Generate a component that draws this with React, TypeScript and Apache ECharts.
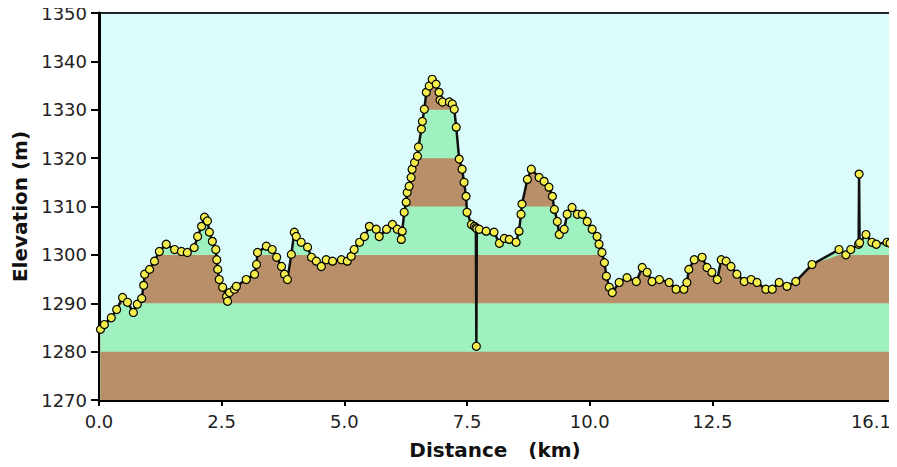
import React, { useEffect, useRef } from "react";
import * as echarts from "echarts";

// Elevation profile
const distanceKm = [
  0.03, 0.11, 0.25, 0.36, 0.48, 0.58, 0.7, 0.78, 0.87, 0.91,
  0.93, 1.03, 1.13, 1.23, 1.37, 1.54, 1.68, 1.8, 1.94, 2.01,
  2.09, 2.15, 2.21, 2.25, 2.31, 2.38, 2.4, 2.42, 2.45, 2.52,
  2.6, 2.62, 2.66, 2.76, 2.8, 3.0, 3.17, 3.21, 3.23, 3.41,
  3.53, 3.62, 3.72, 3.78, 3.84, 3.92, 3.98, 4.02, 4.12, 4.25,
  4.33, 4.43, 4.53, 4.63, 4.76, 4.94, 5.06, 5.14, 5.2, 5.31,
  5.41, 5.51, 5.65, 5.71, 5.86, 5.98, 6.08, 6.16, 6.18, 6.22,
  6.26, 6.28, 6.32, 6.36, 6.38, 6.43, 6.49, 6.51, 6.57, 6.59,
  6.63, 6.67, 6.73, 6.79, 6.87, 6.93, 6.95, 7.0, 7.14, 7.2,
  7.24, 7.28, 7.34, 7.4, 7.44, 7.48, 7.5, 7.59, 7.65, 7.68,
  7.7, 7.75, 7.89, 8.05, 8.16, 8.26, 8.36, 8.5, 8.56, 8.6,
  8.62, 8.73, 8.81, 8.97, 9.07, 9.17, 9.24, 9.28, 9.34, 9.38,
  9.48, 9.54, 9.64, 9.75, 9.85, 9.95, 10.05, 10.15, 10.19, 10.25,
  10.3, 10.34, 10.4, 10.46, 10.6, 10.76, 10.95, 11.07, 11.17, 11.27,
  11.42, 11.62, 11.76, 11.92, 11.98, 12.02, 12.13, 12.29, 12.39, 12.49,
  12.6, 12.68, 12.78, 12.88, 13.0, 13.15, 13.29, 13.41, 13.59, 13.72,
  13.86, 14.02, 14.2, 14.53, 15.08, 15.22, 15.32, 15.48, 15.5, 15.63,
  15.75, 15.84, 16.06, 16.12,
];
const elevationM = [
  1284.6, 1285.6, 1287.0, 1288.7, 1291.2, 1290.2, 1288.1, 1289.8, 1291.0, 1293.7,
  1296.0, 1297.0, 1298.7, 1300.7, 1302.2, 1301.1, 1300.7, 1300.5, 1301.5, 1303.8,
  1305.9, 1307.8, 1307.0, 1304.7, 1302.8, 1301.1, 1299.0, 1297.0, 1294.9, 1293.3,
  1291.4, 1290.4, 1292.2, 1292.9, 1293.5, 1294.9, 1296.0, 1298.0, 1300.5, 1301.8,
  1301.1, 1299.5, 1297.6, 1296.0, 1294.9, 1300.1, 1304.7, 1303.8, 1302.6, 1301.6,
  1299.5, 1298.7, 1297.6, 1299.0, 1298.7, 1299.0, 1298.7, 1299.7, 1301.1, 1302.6,
  1303.8, 1305.9, 1305.3, 1303.8, 1305.3, 1306.3, 1305.3, 1303.2, 1304.9, 1308.8,
  1310.9, 1312.9, 1314.2, 1316.0, 1317.7, 1319.1, 1320.4, 1322.3, 1326.0, 1327.6,
  1330.1, 1333.6, 1334.9, 1336.3, 1335.3, 1333.6, 1332.0, 1331.6, 1331.6, 1331.2,
  1330.1, 1326.4, 1319.8, 1317.7, 1315.0, 1312.1, 1308.8, 1306.3, 1305.9, 1305.6,
  1305.4, 1305.3, 1304.9, 1304.7, 1302.4, 1303.4, 1303.2, 1302.6, 1304.9, 1308.4,
  1310.5, 1315.6, 1317.7, 1316.0, 1315.2, 1314.0, 1312.1, 1309.4, 1306.9, 1304.2,
  1305.3, 1308.4, 1309.8, 1308.4, 1308.4, 1306.9, 1305.3, 1303.8, 1302.2, 1300.5,
  1298.4, 1295.6, 1293.3, 1292.2, 1294.3, 1295.3, 1294.5, 1297.4, 1296.4, 1294.5,
  1294.9, 1294.3, 1292.9, 1292.9, 1294.3, 1297.0, 1299.0, 1299.5, 1297.4, 1296.4,
  1294.9, 1299.0, 1298.7, 1297.6, 1296.0, 1294.5, 1294.9, 1294.3, 1292.9, 1292.9,
  1294.3, 1293.5, 1294.5, 1298.0, 1301.1, 1300.0, 1301.1, 1302.2, 1302.5, 1304.2,
  1302.6, 1302.2, 1302.6, 1302.4,
];

// Isolated outlier readings (drawn by the line, not by the ground fill)
const spikeDistanceKm = [7.69, 15.49];
const spikeElevationM = [1281.1, 1316.7];

// Axis settings
const yMin = 1270;
const yMax = 1350;
const yStep = 10;
const xMin = 0;
const xMax = 16.14;
const xTickValues = [0, 2.5, 5, 7.5, 10, 12.5, 16.14];

// Contour bands (bottom of each 10 m band)
const bandBottoms = [1270, 1280, 1290, 1300, 1310, 1320, 1330, 1340];

const BROWN = "#b88f68";
const GREEN = "#9ff2bf";
const SKY = "#dcfcfc";

export default function App() {
  const ref = useRef<HTMLDivElement>(null);

  useEffect(() => {
    if (!ref.current) return;
    const chart = echarts.init(ref.current, undefined, { renderer: "svg" });

    const ground = distanceKm.map((d, i) => [d, elevationM[i]]);
    const profile = ground
      .concat(spikeDistanceKm.map((d, i) => [d, spikeElevationM[i]]))
      .sort((a, b) => a[0] - b[0]);

    const bandSeries = bandBottoms
      .slice()
      .reverse()
      .map((bottom) => {
        const top = bottom + yStep;
        const idx = bandBottoms.indexOf(bottom);
        return {
          type: "line",
          data: ground.map(([d, e]) => [d, Math.min(e, top)]),
          symbol: "none",
          lineStyle: { width: 0 },
          areaStyle: { color: idx % 2 === 0 ? BROWN : GREEN, opacity: 1, origin: "start" },
          silent: true,
          z: 2,
        };
      });

    const font = "'DejaVu Sans', sans-serif";

    chart.setOption({
      animation: false,
      grid: {
        left: 99,
        right: 6,
        top: 13,
        bottom: 67,
        containLabel: false,
        outerBoundsMode: "none",
        show: true,
        backgroundColor: SKY,
        borderColor: "#222",
        borderWidth: 2,
      },
      xAxis: {
        type: "value",
        min: xMin,
        max: xMax,
        name: "Distance   (km)",
        nameLocation: "middle",
        nameGap: 40,
        nameTextStyle: { fontFamily: font, fontWeight: "bold", fontSize: 20, color: "#111" },
        axisLine: { show: true, onZero: false, lineStyle: { color: "#000", width: 3 } },
        axisTick: { show: true, length: 6, customValues: xTickValues, lineStyle: { color: "#000", width: 2 } },
        axisLabel: {
          customValues: xTickValues,
          formatter: (v: number) => v.toFixed(1),
          alignMaxLabel: "right",
          fontFamily: font,
          fontSize: 18,
          color: "#222",
          margin: 12,
        },
        splitLine: { show: false },
      },
      yAxis: {
        type: "value",
        min: yMin,
        max: yMax,
        interval: yStep,
        name: "Elevation (m)",
        nameLocation: "middle",
        nameGap: 64,
        nameTextStyle: { fontFamily: font, fontWeight: "bold", fontSize: 20, color: "#111" },
        axisLine: { show: true, lineStyle: { color: "#000", width: 3 } },
        axisTick: { show: true, length: 8, lineStyle: { color: "#000", width: 2 } },
        axisLabel: {
          formatter: (v: number) => String(v),
          fontFamily: font,
          fontSize: 18,
          color: "#222",
          margin: 12,
        },
        splitLine: { show: false },
      },
      series: [
        ...bandSeries,
        {
          type: "line",
          data: profile,
          symbol: "circle",
          symbolSize: 8,
          showAllSymbol: true,
          lineStyle: { color: "#111", width: 2.5 },
          itemStyle: { color: "#f4ee4c", borderColor: "#000", borderWidth: 1.2 },
          z: 4,
        },
      ],
    });

    return () => chart.dispose();
  }, []);

  return <div ref={ref} style={{ width: 897, height: 467, margin: -8 }} />;
}
